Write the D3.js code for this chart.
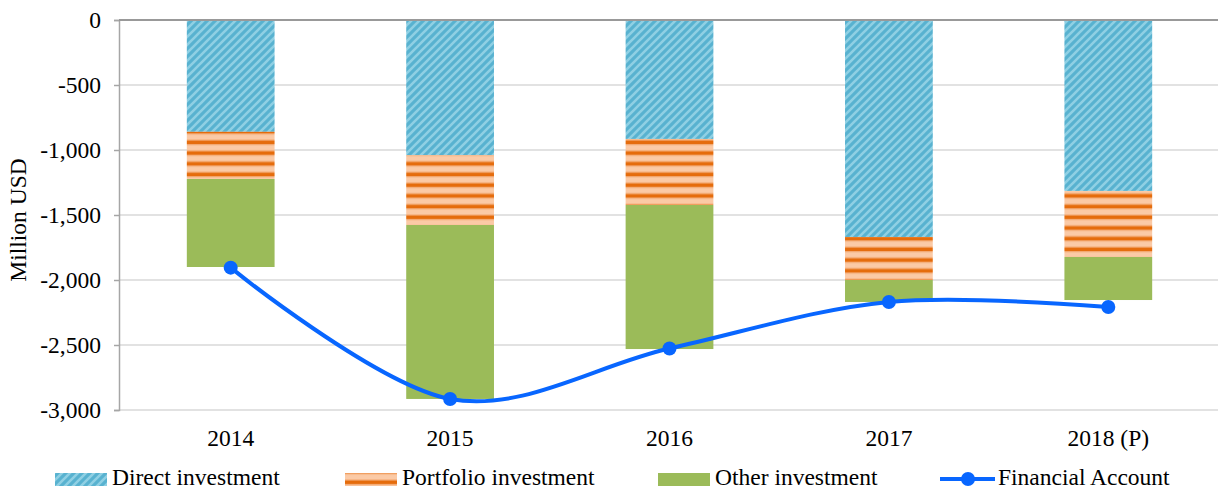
<!DOCTYPE html>
<html>
<head>
<meta charset="utf-8">
<script src="https://cdn.jsdelivr.net/npm/d3@7"></script>
<style>
  body { margin: 0; background: #fff; }
  svg text { font-family: "Liberation Serif", Tinos, "Times New Roman", "DejaVu Serif", serif; fill: #000; }
</style>
</head>
<body>
<svg id="chart"></svg>
<script>
// data
const years = ["2014", "2015", "2016", "2017", "2018 (P)"];
const directInv = [-860, -1040, -915, -1669, -1315];
const portfolioInv = [-363, -537, -508, -331, -508];
const otherInv = [-677, -1338, -1108, -169, -331];
const financialAccount = [-1905, -2915, -2527, -2169, -2208];
const yTicks = [0, -500, -1000, -1500, -2000, -2500, -3000];

const seriesNames = ["Direct investment", "Portfolio investment", "Other investment"];

const width = 1218;
const height = 491;
const serif = "'Liberation Serif', Tinos, 'Times New Roman', 'DejaVu Serif', serif";
const fontSize = "23.5px";

const svg = d3.select("#chart").attr("width", width).attr("height", height);

// patterns
const defs = svg.append("defs");

const pDirect = defs.append("pattern")
  .attr("id", "pDirect")
  .attr("patternUnits", "userSpaceOnUse")
  .attr("width", 8).attr("height", 8);
pDirect.append("rect").attr("width", 8).attr("height", 8).attr("fill", "#58b2d0");
pDirect.append("path")
  .attr("d", "M-2,2 L2,-2 M0,8 L8,0 M6,10 L10,6")
  .attr("stroke", "#8fd0e4").attr("stroke-width", 2.6);

const pPort = defs.append("pattern")
  .attr("id", "pPort")
  .attr("patternUnits", "userSpaceOnUse")
  .attr("width", 10).attr("height", 10.7);
pPort.append("rect").attr("width", 10).attr("height", 10.7).attr("fill", "#fbcaa6");
pPort.append("rect").attr("y", 0.5).attr("width", 10).attr("height", 1).attr("fill", "#f3a56c");
pPort.append("rect").attr("y", 1.5).attr("width", 10).attr("height", 3.6).attr("fill", "#e56c0c");
pPort.append("rect").attr("y", 5.1).attr("width", 10).attr("height", 1).attr("fill", "#f3a56c");

const fills = ["url(#pDirect)", "url(#pPort)", "#9bbb59"];

// scales
const x = d3.scaleBand().domain(years).range([121, 1218]).paddingInner(0).paddingOuter(0);
const y = d3.scaleLinear().domain([-3000, 0]).range([410, 20]);

// gridlines
svg.append("g")
  .selectAll("line")
  .data(yTicks.filter(d => d !== 0))
  .enter()
  .append("line")
  .attr("x1", 119).attr("x2", width)
  .attr("y1", d => y(d)).attr("y2", d => y(d))
  .attr("stroke", "#d9d9d9").attr("stroke-width", 1.5);

// Y axis
const yAxis = d3.axisLeft(y)
  .tickValues(yTicks)
  .tickSize(5)
  .tickPadding(13)
  .tickFormat(d => d3.format(",")(d).replace("−", "-"));

const gy = svg.append("g").attr("transform", "translate(119,0)").call(yAxis);
gy.attr("font-family", serif);
gy.select(".domain").attr("stroke", "#a6a6a6").attr("stroke-width", 1.5);
gy.selectAll(".tick line").attr("stroke", "#a6a6a6").attr("stroke-width", 1.5);
gy.selectAll(".tick text")
  .style("font-family", serif)
  .style("font-size", fontSize)
  .attr("fill", "#000");

// stacked bars
const stackRows = years.map((yr, i) => ({
  year: yr,
  "Direct investment": directInv[i],
  "Portfolio investment": portfolioInv[i],
  "Other investment": otherInv[i]
}));

const stacked = d3.stack()
  .keys(seriesNames)
  .offset(d3.stackOffsetDiverging)(stackRows);

const barW = x.bandwidth() * 0.4;

svg.append("g")
  .selectAll("g")
  .data(stacked)
  .enter()
  .append("g")
  .attr("fill", (d, i) => fills[i])
  .selectAll("rect")
  .data(d => d)
  .enter()
  .append("rect")
  .attr("x", d => x(d.data.year) + (x.bandwidth() - barW) / 2)
  .attr("y", d => y(d[1]))
  .attr("width", barW)
  .attr("height", d => y(d[0]) - y(d[1]));

// zero line (category axis)
svg.append("line")
  .attr("x1", 119).attr("x2", width)
  .attr("y1", y(0)).attr("y2", y(0))
  .attr("stroke", "#999").attr("stroke-width", 2);

// category labels
svg.append("g")
  .selectAll("text")
  .data(years)
  .enter()
  .append("text")
  .attr("x", d => x(d) + x.bandwidth() / 2)
  .attr("y", 446)
  .attr("text-anchor", "middle")
  .style("font-family", serif)
  .style("font-size", fontSize)
  .text(d => d);

// financial account line
const lineData = years.map((yr, i) => ({ year: yr, v: financialAccount[i] }));
const line = d3.line()
  .x(d => x(d.year) + x.bandwidth() / 2)
  .y(d => y(d.v))
  .curve(d3.curveCardinal.tension(0));

svg.append("path")
  .datum(lineData)
  .attr("d", line)
  .attr("fill", "none")
  .attr("stroke", "#0866ff")
  .attr("stroke-width", 4);

svg.append("g")
  .selectAll("circle")
  .data(lineData)
  .enter()
  .append("circle")
  .attr("cx", d => x(d.year) + x.bandwidth() / 2)
  .attr("cy", d => y(d.v))
  .attr("r", 7)
  .attr("fill", "#0866ff");

// y label
svg.append("text")
  .attr("transform", "translate(26,220) rotate(-90)")
  .attr("text-anchor", "middle")
  .style("font-family", serif)
  .style("font-size", fontSize)
  .text("Million USD");

// legend
const legend = svg.append("g").attr("transform", "translate(0,479)");
const legendItems = [
  { name: "Direct investment", x: 55, fill: fills[0] },
  { name: "Portfolio investment", x: 345, fill: fills[1] },
  { name: "Other investment", x: 658, fill: fills[2] }
];
legendItems.forEach(it => {
  legend.append("rect")
    .attr("x", it.x).attr("y", -6)
    .attr("width", 52).attr("height", 13)
    .attr("fill", it.fill);
  legend.append("text")
    .attr("x", it.x + 57).attr("y", 6)
    .style("font-family", serif)
    .style("font-size", fontSize)
    .text(it.name);
});
legend.append("line")
  .attr("x1", 940).attr("x2", 995)
  .attr("y1", 0).attr("y2", 0)
  .attr("stroke", "#0866ff").attr("stroke-width", 4);
legend.append("circle")
  .attr("cx", 968).attr("cy", 0).attr("r", 7)
  .attr("fill", "#0866ff");
legend.append("text")
  .attr("x", 998).attr("y", 6)
  .style("font-family", serif)
  .style("font-size", fontSize)
  .text("Financial Account");
</script>
</body>
</html>
